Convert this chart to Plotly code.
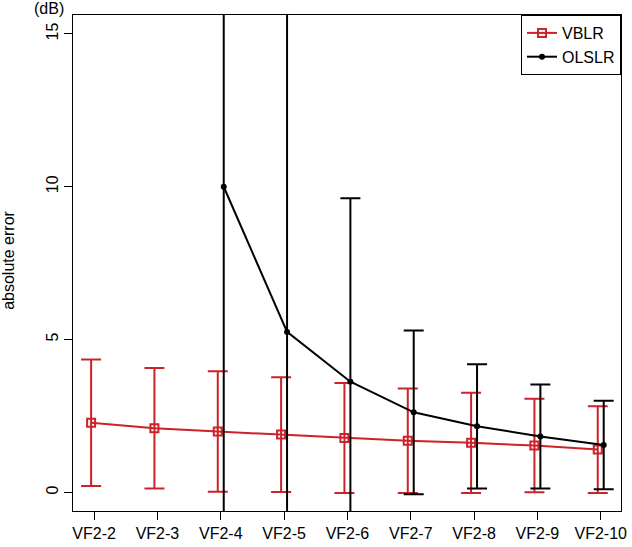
import plotly.graph_objects as go

categories = ["VF2-2", "VF2-3", "VF2-4", "VF2-5", "VF2-6", "VF2-7", "VF2-8", "VF2-9", "VF2-10"]
vblr_mean = [2.28, 2.10, 1.99, 1.89, 1.78, 1.69, 1.62, 1.53, 1.40]
vblr_err = [2.07, 1.97, 1.97, 1.88, 1.80, 1.71, 1.64, 1.53, 1.42]
olslr_cat = ["VF2-4", "VF2-5", "VF2-6", "VF2-7", "VF2-8", "VF2-9", "VF2-10"]
olslr_mean = [10.0, 5.25, 3.62, 2.62, 2.16, 1.83, 1.55]
olslr_err = [20.0, 12.0, 6.0, 2.68, 2.03, 1.70, 1.45]
yticks = [0, 5, 10, 15]

RED = "#cc2229"
idx = {c: i for i, c in enumerate(categories)}
off = 0.047
x_red = [idx[c] - off for c in categories]
x_blk = [idx[c] + off for c in olslr_cat]

fig = go.Figure()
fig.add_trace(go.Scatter(
    x=x_red, y=vblr_mean, name="VBLR", mode="lines+markers",
    line=dict(color=RED, width=2),
    marker=dict(symbol="square-open", size=8, color=RED, line=dict(width=2, color=RED)),
    error_y=dict(type="data", array=vblr_err, visible=True, color=RED, thickness=2, width=10),
))
fig.add_trace(go.Scatter(
    x=x_blk, y=olslr_mean, name="OLSLR", mode="lines+markers",
    line=dict(color="black", width=2),
    marker=dict(symbol="circle", size=6, color="black"),
    error_y=dict(type="data", array=olslr_err, visible=True, color="black", thickness=2, width=10),
))

font = "Liberation Sans, Arial, sans-serif"
fig.update_layout(
    width=632, height=547,
    margin=dict(l=73, r=5, t=15, b=36),
    paper_bgcolor="white", plot_bgcolor="white",
    font=dict(family=font, size=16, color="black"),
    showlegend=True,
    legend=dict(x=1, xanchor="right", y=1, yanchor="top",
                bordercolor="black", borderwidth=1, bgcolor="white",
                font=dict(size=16), tracegroupgap=0, itemwidth=30),
    xaxis=dict(range=[-0.333, 8.32], tickmode="array",
               tickvals=list(range(len(categories))), ticktext=categories,
               showgrid=False, zeroline=False, showline=True, linecolor="black",
               linewidth=1, mirror=True, ticks="outside", ticklen=8,
               tickcolor="black", tickfont=dict(size=16), ticklabeloverflow="allow"),
    yaxis=dict(range=[-0.61, 15.62], tickmode="array", tickvals=yticks,
               showgrid=False, zeroline=False, showline=True, linecolor="black",
               linewidth=1, mirror=True, ticks="outside", ticklen=8,
               tickcolor="black", tickangle=-90, tickfont=dict(size=16)),
    annotations=[
        dict(text="absolute error", xref="paper", yref="paper", x=-0.118, y=0.505,
             xanchor="center", yanchor="middle", textangle=-90, showarrow=False,
             font=dict(size=16)),
        dict(text="(dB)", xref="paper", yref="paper", x=-0.012, y=1.0,
             xanchor="right", yanchor="bottom", yshift=-4, showarrow=False,
             font=dict(size=16)),
    ],
)
fig.write_html("out.html", config={"displayModeBar": False},
               post_script="document.body.style.margin='0';document.body.style.padding='0';")
